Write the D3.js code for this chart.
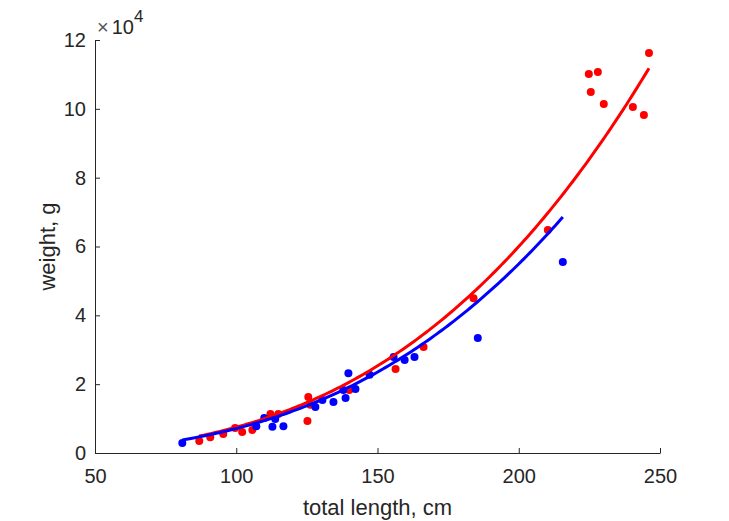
<!DOCTYPE html>
<html>
<head>
<meta charset="utf-8">
<script src="https://cdn.jsdelivr.net/npm/d3@7"></script>
<style>
  body { margin: 0; background: #fff; }
  text { font-family: "Liberation Sans", Arial, sans-serif; fill: #262626; }
</style>
</head>
<body>
<svg width="729" height="521"></svg>
<script>
// red group: total length (cm), weight (g)
var redLength = [86.9, 90.8, 95.4, 99.6, 102.1, 105.7, 112.1, 114.9, 125.5, 126.2, 125.2, 140.0,
                 156.4, 166.3, 184.0, 210.3, 224.8, 228.0, 225.5, 230.1, 240.4, 244.3, 246.1];
var redWeight = [3500, 4600, 5500, 7300, 6100, 6700, 11300, 11300, 16300, 14000, 9300, 18300,
                 24400, 30800, 45000, 64800, 110100, 110700, 104900, 101400, 100500, 98200, 116200];

// blue group
var blueLength = [80.9, 107.1, 109.9, 112.8, 113.8, 116.7, 128.0, 130.5, 134.4, 137.9, 138.7, 139.7,
                  142.2, 147.2, 155.7, 159.6, 163.1, 185.5, 215.6];
var blueWeight = [2900, 7800, 10200, 7600, 9900, 7800, 13400, 15400, 14800, 18300, 16000, 23200,
                  18600, 22700, 27900, 27000, 27900, 33400, 55500];

// power-law fits  W = a * L^b, with the length range each curve covers
var redFit = { a: 0.0075, b: 3.0, from: 86.9, to: 246.1 };
var blueFit = { a: 0.00895, b: 2.95, from: 80.9, to: 215.6 };

var xTicks = [50, 100, 150, 200, 250];
var yTicks = [0, 20000, 40000, 60000, 80000, 100000, 120000];

var svg = d3.select("svg"),
    margin = { left: 95, right: 69, top: 40, bottom: 68 },
    width = 729 - margin.left - margin.right,
    height = 521 - margin.top - margin.bottom,
    g = svg.append("g").attr("transform", "translate(" + margin.left + "," + margin.top + ")");

var x = d3.scaleLinear().domain([50, 250]).range([0, width]);
var y = d3.scaleLinear().domain([0, 120000]).range([height, 0]);

var axisColor = "#262626";

// x axis (ticks pointing inward)
var xAxis = g.append("g")
    .attr("transform", "translate(0," + height + ")")
    .call(d3.axisBottom(x).tickValues(xTicks).tickSizeInner(-5).tickSizeOuter(0).tickPadding(16));

var yAxis = g.append("g")
    .call(d3.axisLeft(y).tickValues(yTicks).tickSizeInner(-5).tickSizeOuter(0).tickPadding(9)
      .tickFormat(function(d) { return d / 10000; }));

[xAxis, yAxis].forEach(function(a) {
  a.select(".domain").attr("stroke", axisColor);
  a.selectAll(".tick line").attr("stroke", axisColor);
  a.selectAll(".tick text").style("font-size", "20px").attr("fill", axisColor);
});

// exponent label
var expo = g.append("text")
    .attr("x", 2)
    .attr("y", -6)
    .style("font-size", "20px");
expo.append("tspan").attr("fill", "#555").text("\u00d7");
expo.append("tspan").attr("dx", 3).text("10");
expo.append("tspan").attr("dy", -12).style("font-size", "17px").text("4");

// axis labels
svg.append("text")
    .attr("x", margin.left + width / 2)
    .attr("y", 515)
    .attr("text-anchor", "middle")
    .style("font-size", "22px")
    .text("total length, cm");

svg.append("text")
    .attr("transform", "translate(55," + (margin.top + height / 2) + ")rotate(-90)")
    .attr("text-anchor", "middle")
    .style("font-size", "22px")
    .text("weight, g");

function fitLine(fit) {
  var xs = d3.range(fit.from, fit.to, 1).concat([fit.to]);
  return xs.map(function(l) { return [l, fit.a * Math.pow(l, fit.b)]; });
}

var line = d3.line()
    .x(function(d) { return x(d[0]); })
    .y(function(d) { return y(d[1]); });

function drawGroup(lengths, weights, color) {
  g.append("g")
    .selectAll("circle")
    .data(lengths.map(function(l, i) { return [l, weights[i]]; }))
    .enter().append("circle")
      .attr("cx", function(d) { return x(d[0]); })
      .attr("cy", function(d) { return y(d[1]); })
      .attr("r", 4)
      .attr("fill", color);
}

drawGroup(redLength, redWeight, "#ff0000");
drawGroup(blueLength, blueWeight, "#0000ff");

g.append("path")
    .datum(fitLine(redFit))
    .attr("fill", "none")
    .attr("stroke", "#ff0000")
    .attr("stroke-width", 3)
    .attr("d", line);

g.append("path")
    .datum(fitLine(blueFit))
    .attr("fill", "none")
    .attr("stroke", "#0000ff")
    .attr("stroke-width", 3)
    .attr("d", line);
</script>
</body>
</html>
